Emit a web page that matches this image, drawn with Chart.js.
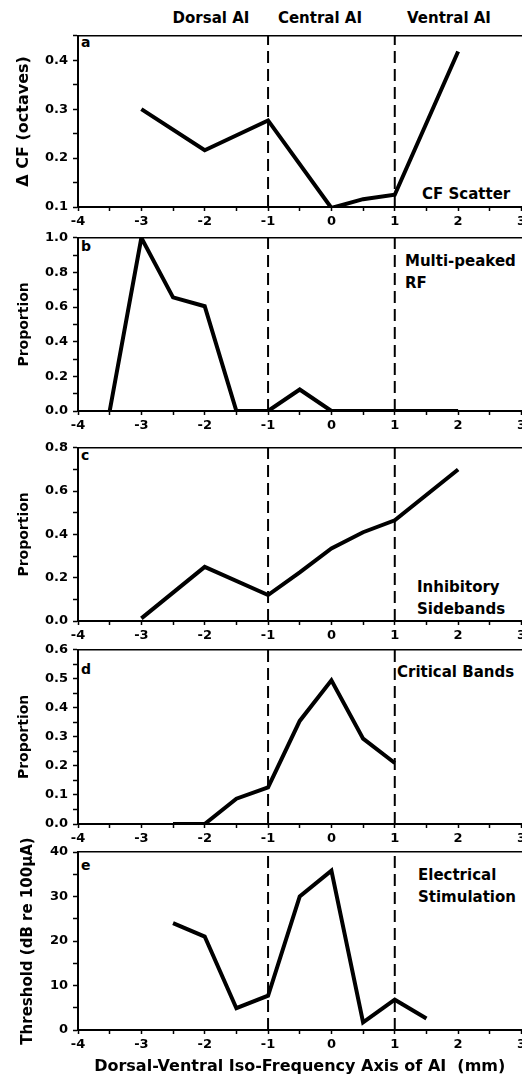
<!DOCTYPE html>
<html>
<head>
<meta charset="utf-8">
<script src="https://cdn.jsdelivr.net/npm/chart.js@4"></script>
<style>
html,body{margin:0;padding:0;background:#fff;overflow:hidden;}
#wrap{position:relative;width:522px;height:1083px;overflow:hidden;font-family:"DejaVu Sans",sans-serif;font-weight:bold;color:#000;}
#wrap canvas{position:absolute;left:0;}
.t{position:absolute;white-space:pre;font-size:15px;line-height:18px;}
.top{width:140px;text-align:center;}
.let{font-size:14px;line-height:17px;}
</style>
</head>
<body>
<div id="wrap">
  <div class="t top" style="left:141px;top:9px;">Dorsal AI</div>
  <div class="t top" style="left:250px;top:9px;">Central AI</div>
  <div class="t top" style="left:379px;top:9px;">Ventral AI</div>

  <div class="t let" style="left:81px;top:34px;">a</div>
  <div class="t let" style="left:81px;top:238px;">b</div>
  <div class="t let" style="left:81px;top:447px;">c</div>
  <div class="t let" style="left:81px;top:661px;">d</div>
  <div class="t let" style="left:81px;top:857px;">e</div>

  <div class="t" style="left:422px;top:185px;">CF Scatter</div>
  <div class="t" style="left:405px;top:251px;line-height:21.5px;">Multi-peaked
RF</div>
  <div class="t" style="left:417px;top:576px;line-height:22px;">Inhibitory
Sidebands</div>
  <div class="t" style="left:397px;top:663px;">Critical Bands</div>
  <div class="t" style="left:418px;top:864px;line-height:22px;">Electrical
Stimulation</div>
</div>
<script>
// ---- data ----
const xTickLabels = [-4, -3, -2, -1, 0, 1, 2, 3];
const boundaryX = [-1, 1];

const posA = [-3, -2, -1, 0, 0.5, 1, 2];
const cfScatter = [0.300, 0.216, 0.277, 0.098, 0.116, 0.125, 0.418];
const yTicksA = [0.1, 0.2, 0.3, 0.4];

const posB = [-3.5, -3, -2.5, -2, -1.5, -1, -0.5, 0, 0.5, 1, 1.5, 2];
const multiPeaked = [0, 1.0, 0.656, 0.605, 0, 0, 0.124, 0, 0, 0, 0, 0];
const yTicksB = [0, 0.2, 0.4, 0.6, 0.8, 1.0];

const posC = [-3, -2, -1, -0.5, 0, 0.5, 1, 2];
const inhibitory = [0.012, 0.250, 0.120, 0.225, 0.335, 0.410, 0.465, 0.700];
const yTicksC = [0, 0.2, 0.4, 0.6, 0.8];

const posD = [-2.5, -2, -1.5, -1, -0.5, 0, 0.5, 1];
const criticalBands = [0, 0, 0.087, 0.126, 0.355, 0.495, 0.294, 0.210];
const yTicksD = [0, 0.1, 0.2, 0.3, 0.4, 0.5, 0.6];

const posE = [-2.5, -2, -1.5, -1, -0.5, 0, 0.5, 1, 1.5];
const threshold = [24.0, 21.0, 4.9, 7.7, 30.0, 35.8, 1.7, 6.8, 2.6];
const yTicksE = [0, 10, 20, 30, 40];

const xAxisTitle = 'Dorsal-Ventral Iso-Frequency Axis of AI  (mm)';

// ---- layout / styling ----
Chart.defaults.font.family = 'DejaVu Sans';
Chart.defaults.font.weight = 'bold';
Chart.defaults.color = '#000';

const panels = [
  {top: 23,  pad: 8,  h: 210, xH: 26, x: posA, y: cfScatter,     yMin: 0.1, yMax: 0.45, yStep: 0.05, yLabels: yTicksA, dec: 1, title: 'Δ CF (octaves)', tSize: 16, tPad: 14},
  {top: 225, pad: 8,  h: 212, xH: 26, x: posB, y: multiPeaked,   yMin: 0,   yMax: 1.0,  yStep: 0.1,  yLabels: yTicksB, dec: 1, title: 'Proportion', tSize: 14, tPad: 16},
  {top: 435, pad: 8,  h: 212, xH: 26, x: posC, y: inhibitory,    yMin: 0,   yMax: 0.8,  yStep: 0.1,  yLabels: yTicksC, dec: 1, title: 'Proportion', tSize: 14, tPad: 16},
  {top: 637, pad: 8,  h: 213, xH: 26, x: posD, y: criticalBands, yMin: 0,   yMax: 0.6,  yStep: 0.05, yLabels: yTicksD, dec: 1, title: 'Proportion', tSize: 14, tPad: 16},
  {top: 832, pad: 20, h: 251, xH: 53, x: posE, y: threshold,     yMin: 0,   yMax: 40,   yStep: 5,    yLabels: yTicksE, dec: 0, title: 'Threshold (dB re 100µA)', tSize: 15, tPad: 19, xTitle: xAxisTitle}
];

const wrap = document.getElementById('wrap');
const tickFont = {family: 'DejaVu Sans', weight: 'bold', size: 13};

panels.forEach(p => {
  const c = document.createElement('canvas');
  c.width = 529; c.height = p.h;
  c.style.top = p.top + 'px';
  wrap.appendChild(c);

  const datasets = [{
    data: p.x.map((v, i) => ({x: v, y: p.y[i]})),
    borderColor: '#000', borderWidth: 4, pointRadius: 0, tension: 0, fill: false,
    borderJoinStyle: 'miter', borderCapStyle: 'butt', xAxisID: 'x', yAxisID: 'y'
  }];
  boundaryX.forEach(b => datasets.push({
    data: [{x: b, y: p.yMin}, {x: b, y: p.yMax}],
    borderColor: '#000', borderWidth: 2, borderDash: [12, 6], pointRadius: 0, fill: false,
    xAxisID: 'x', yAxisID: 'y'
  }));

  new Chart(c, {
    type: 'line',
    data: {datasets},
    options: {
      responsive: false, animation: false, events: [],
      layout: {padding: {top: p.pad, left: 0, right: 0, bottom: 0}},
      plugins: {legend: {display: false}, tooltip: {enabled: false}},
      scales: {
        x: {
          type: 'linear', position: 'bottom', min: -4, max: 3,
          ticks: {
            stepSize: 0.5, autoSkip: false, maxRotation: 0, padding: 3, color: '#000', font: tickFont,
            callback: v => { const m = xTickLabels.find(t => Math.abs(t - v) < 1e-6); return m === undefined ? '' : String(m); }
          },
          grid: {drawOnChartArea: false, drawTicks: true, tickLength: 4, tickColor: '#000', tickWidth: 1.5},
          border: {display: true, color: '#000', width: 2},
          title: p.xTitle ? {display: true, text: p.xTitle, color: '#000', font: {family: 'DejaVu Sans', weight: 'bold', size: 16}, padding: {top: 0, bottom: 7}} : {display: false},
          afterFit: s => { s.height = p.xH; }
        },
        x2: {
          type: 'linear', position: 'top', min: -4, max: 3,
          ticks: {display: false},
          grid: {drawOnChartArea: false, drawTicks: false},
          border: {display: true, color: '#000', width: 1.5},
          afterFit: s => { s.height = 0; }
        },
        y: {
          type: 'linear', position: 'left', min: p.yMin, max: p.yMax,
          ticks: {
            stepSize: p.yStep, autoSkip: false, padding: 5, color: '#000', font: tickFont,
            callback: v => { const m = p.yLabels.find(t => Math.abs(t - v) < 1e-6); return m === undefined ? '' : m.toFixed(p.dec); }
          },
          grid: {drawOnChartArea: false, drawTicks: true, tickLength: 5, tickColor: '#000', tickWidth: 1.5},
          border: {display: true, color: '#000', width: 2},
          title: {display: true, text: p.title, color: '#000', font: {family: 'DejaVu Sans', weight: 'bold', size: p.tSize}, padding: {top: p.tPad, bottom: 0}},
          afterFit: s => { s.width = 78; }
        }
      }
    }
  });
});
</script>
</body>
</html>
